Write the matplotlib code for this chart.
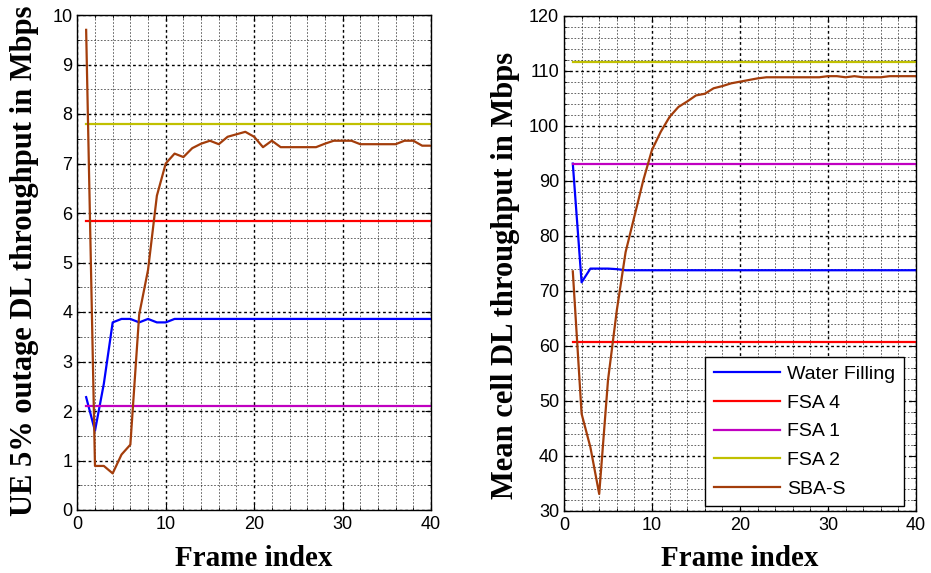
import matplotlib
matplotlib.use("Agg")
import matplotlib.pyplot as plt
from matplotlib.ticker import MultipleLocator

frames = list(range(1, 41))

# Left panel: UE 5% outage DL throughput (Mbps)
left_wf = [2.28, 1.6, 2.55, 3.79, 3.86, 3.86, 3.79, 3.86, 3.79, 3.79] + [3.86] * 30
left_fsa4 = 5.83
left_fsa1 = 2.1
left_fsa2 = 7.8
left_sba = [9.70, 0.89, 0.89, 0.74, 1.12, 1.32, 3.95, 4.85, 6.35, 7.00,
            7.20, 7.13, 7.31, 7.40, 7.46, 7.39, 7.54, 7.59, 7.64, 7.54,
            7.33, 7.46, 7.33, 7.33, 7.33, 7.33, 7.33, 7.40, 7.46, 7.46,
            7.46, 7.39, 7.39, 7.39, 7.39, 7.39, 7.46, 7.46, 7.36, 7.36]

# Right panel: Mean cell DL throughput (Mbps)
right_wf = [93.1, 71.5, 74.0, 74.0, 74.0, 73.9] + [73.7] * 34
right_fsa4 = 60.6
right_fsa1 = 93.1
right_fsa2 = 111.6
right_sba = [73.5, 47.6, 41.5, 33.0, 53.7, 66.4, 77.0, 83.5, 90.0, 95.6,
             98.9, 101.6, 103.4, 104.4, 105.5, 105.8, 106.8, 107.2, 107.7, 108.0,
             108.3, 108.6, 108.8, 108.8, 108.8, 108.8, 108.8, 108.8, 108.8, 109.0,
             109.0, 108.8, 109.0, 108.8, 108.8, 108.8, 109.0, 109.0, 109.0, 109.0]

labels = ["Water Filling", "FSA 4", "FSA 1", "FSA 2", "SBA-S"]
colors = ["#0000FF", "#FF0000", "#C000C0", "#C0C000", "#A33D0B"]

plt.rcParams['font.family'] = ['Liberation Sans', 'DejaVu Sans']
serif = ['Liberation Serif', 'DejaVu Serif']

fig = plt.figure(figsize=(9.31, 5.73), dpi=100)
W, H = 931, 573
ax1 = fig.add_axes([77.3 / W, (H - 510) / H, (431 - 77.3) / W, (510 - 15) / H])
ax2 = fig.add_axes([564 / W, (H - 510.5) / H, (916 - 564) / W, (510.5 - 15.7) / H])


def style(ax, ymin, ymax, ymaj, ymin_step):
    ax.set_xlim(0, 40)
    ax.set_ylim(ymin, ymax)
    ax.xaxis.set_major_locator(MultipleLocator(10))
    ax.xaxis.set_minor_locator(MultipleLocator(2))
    ax.yaxis.set_major_locator(MultipleLocator(ymaj))
    ax.yaxis.set_minor_locator(MultipleLocator(ymin_step))
    ax.grid(which='major', color='k', linestyle=(0, (2, 2)), linewidth=1.0)
    ax.grid(which='minor', color='k', linestyle=(0, (2, 2)), linewidth=0.6, alpha=0.7)
    ax.set_axisbelow(True)
    ax.tick_params(which='both', direction='in', top=True, right=True,
                   labelsize=13, colors='k')
    ax.tick_params(axis='x', pad=4.5)
    ax.tick_params(axis='y', pad=3.5)
    ax.tick_params(which='major', length=4)
    ax.tick_params(which='minor', length=2)
    for s in ax.spines.values():
        s.set_linewidth(1.0)
        s.set_color('k')
    ax.set_xlabel("Frame index", family=serif, fontweight='bold', fontsize=21)
    ax.xaxis.set_label_coords(0.5, -0.07)


def draw(ax, wf, fsa4, fsa1, fsa2, sba):
    n = len(frames)
    ax.plot(frames, wf, color=colors[0], lw=1.6, label=labels[0])
    ax.plot(frames, [fsa4] * n, color=colors[1], lw=1.6, label=labels[1])
    ax.plot(frames, [fsa1] * n, color=colors[2], lw=1.6, label=labels[2])
    ax.plot(frames, [fsa2] * n, color=colors[3], lw=1.6, label=labels[3])
    ax.plot(frames, sba, color=colors[4], lw=1.6, label=labels[4])


draw(ax1, left_wf, left_fsa4, left_fsa1, left_fsa2, left_sba)
draw(ax2, right_wf, right_fsa4, right_fsa1, right_fsa2, right_sba)

style(ax1, 0, 10, 1, 0.5)
style(ax2, 30, 120, 10, 2)

ax1.set_ylabel("UE 5% outage DL throughput in Mbps", family=serif,
               fontweight='bold', fontsize=22, va='center')
ax1.yaxis.set_label_coords(-0.15, 0.504)
ax2.set_ylabel("Mean cell DL throughput in Mbps", family=serif,
               fontweight='bold', fontsize=22, va='center')
ax2.yaxis.set_label_coords(-0.165, 0.476)

leg = ax2.legend(loc='lower right', bbox_to_anchor=((904 - 564) / 352, 4 / 494),
                 borderaxespad=0, fontsize=14, handlelength=3.4, handletextpad=0.35,
                 labelspacing=0.57, fancybox=False, framealpha=1, edgecolor='k',
                 borderpad=0.45)
leg.get_frame().set_linewidth(1.0)

fig.savefig("out.png", dpi=100)
